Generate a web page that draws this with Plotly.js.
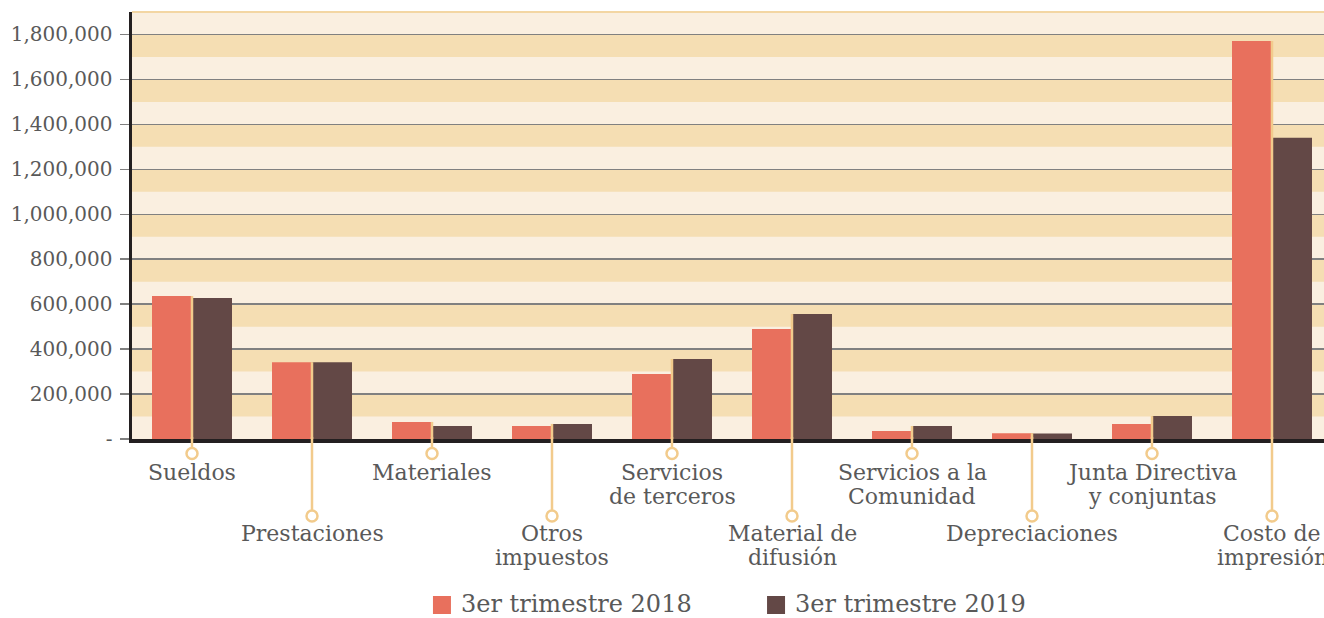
<!DOCTYPE html>
<html>
<head>
<meta charset="utf-8">
<script src="https://cdn.plot.ly/plotly-3.0.1.min.js"></script>
<style>
  html, body { margin: 0; padding: 0; overflow: hidden; background: #ffffff; }
  #chart { width: 1332px; height: 618px; }
</style>
</head>
<body>
<div id="chart"></div>
<script>
// ---- data ----
const labelLines = [
  ['Sueldos'],
  ['Prestaciones'],
  ['Materiales'],
  ['Otros', 'impuestos'],
  ['Servicios', 'de terceros'],
  ['Material de', 'difusión'],
  ['Servicios a la', 'Comunidad'],
  ['Depreciaciones'],
  ['Junta Directiva', 'y conjuntas'],
  ['Costo de', 'impresión']
];
const categories = labelLines.map(l => l.join(' '));
const values2018 = [636000, 342000, 76000, 58000, 289000, 490000, 36000, 26000, 67000, 1771000];
const values2019 = [627000, 341000, 58000, 67000, 356000, 556000, 58000, 24000, 102000, 1340000];
const seriesNames = ['3er trimestre 2018', '3er trimestre 2019'];
const tickVals = [0, 200000, 400000, 600000, 800000, 1000000, 1200000, 1400000, 1600000, 1800000];
const tickText = ['-', '200,000', '400,000', '600,000', '800,000', '1,000,000', '1,200,000', '1,400,000', '1,600,000', '1,800,000'];
const yMax = 1900000;
const bandStep = 100000;

// ---- styles ----
const FONT = 'DejaVu Serif';
const TXT = '#595959';
const COLORS = ['#e8705d', '#634846'];
const TAN = '#f2cb8c';

const traces = [
  { type: 'bar', x: categories, y: values2018, name: seriesNames[0], marker: { color: COLORS[0] }, showlegend: false, hoverinfo: 'y' },
  { type: 'bar', x: categories, y: values2019, name: seriesNames[1], marker: { color: COLORS[1] }, showlegend: false, hoverinfo: 'y' }
];

const shapes = [];
const annotations = [];
// alternating bands
for (let k = 1; k * bandStep < yMax; k += 2) {
  shapes.push({ type: 'rect', xref: 'paper', yref: 'y', x0: 0, x1: 1, y0: k * bandStep, y1: (k + 1) * bandStep,
    fillcolor: '#f5deb3', line: { width: 0 }, layer: 'below' });
}
// top border
shapes.push({ type: 'line', xref: 'paper', yref: 'paper', x0: 0, x1: 1, y0: 1, y1: 1, line: { color: '#f3d6a3', width: 2 } });

// category call-outs
const levelCircle = [14.5, 77];
const levelText = [33, 94];
const lineGap = 24;
categories.forEach((cat, i) => {
  const lvl = i % 2;
  const top = Math.max(values2018[i], values2019[i]);
  shapes.push({ type: 'line', xref: 'x', yref: 'y', x0: cat, x1: cat, y0: 0, y1: top, line: { color: TAN, width: 2.5 } });
  shapes.push({ type: 'line', xref: 'x', yref: 'paper', ysizemode: 'pixel', yanchor: 0, x0: cat, x1: cat, y0: 2, y1: -levelCircle[lvl], line: { color: TAN, width: 2.5 } });
  shapes.push({ type: 'circle', xref: 'x', yref: 'paper', xsizemode: 'pixel', ysizemode: 'pixel', xanchor: cat, yanchor: 0,
    x0: -5.5, x1: 5.5, y0: -levelCircle[lvl] - 5.5, y1: -levelCircle[lvl] + 5.5,
    fillcolor: '#ffffff', line: { color: TAN, width: 2.5 } });
  labelLines[i].forEach((ln, j) => {
    annotations.push({ x: cat, xref: 'x', y: 0, yref: 'paper', yanchor: 'middle', xanchor: 'center',
      yshift: -(levelText[lvl] + lineGap * j), text: ln, showarrow: false,
      font: { family: FONT, size: 22, color: TXT } });
  });
});

// legend (drawn as swatch + text)
const legendSwatchX = [0.2583, 0.5367];
const legendTextX = [0.2725, 0.5508];
const legendShift = -166;
seriesNames.forEach((nm, s) => {
  shapes.push({ type: 'rect', xref: 'paper', yref: 'paper', xsizemode: 'pixel', ysizemode: 'pixel',
    xanchor: legendSwatchX[s], yanchor: 0, x0: -9, x1: 9, y0: legendShift - 9, y1: legendShift + 9,
    fillcolor: COLORS[s], line: { width: 0 } });
  annotations.push({ x: legendTextX[s], xref: 'paper', y: 0, yref: 'paper', xanchor: 'left', yanchor: 'middle',
    yshift: legendShift + 1, text: nm, showarrow: false, font: { family: FONT, size: 24, color: TXT } });
});

const layout = {
  width: 1332, height: 618,
  margin: { l: 132, r: 0, t: 12, b: 179, pad: 0, autoexpand: false },
  paper_bgcolor: '#ffffff',
  plot_bgcolor: '#faefe0',
  barmode: 'group',
  bargap: 1 / 3,
  bargroupgap: 0,
  showlegend: false,
  font: { family: FONT, color: TXT },
  xaxis: { type: 'category', showticklabels: false, ticks: '', showgrid: false, zeroline: false,
    showline: true, linecolor: '#231f20', linewidth: 3.5, fixedrange: true, automargin: false },
  yaxis: { range: [0, yMax], tickvals: tickVals, ticktext: tickText, showgrid: true, gridcolor: '#808080', gridwidth: 1.5,
    zeroline: false, ticks: 'outside', ticklen: 9, tickwidth: 1.5, tickcolor: '#808080',
    showline: true, linecolor: '#231f20', linewidth: 3.5, automargin: false, ticklabelstandoff: 3,
    tickfont: { family: FONT, size: 20, color: TXT }, fixedrange: true },
  shapes: shapes,
  annotations: annotations
};

Plotly.newPlot('chart', traces, layout, { displayModeBar: false, staticPlot: true });
</script>
</body>
</html>
